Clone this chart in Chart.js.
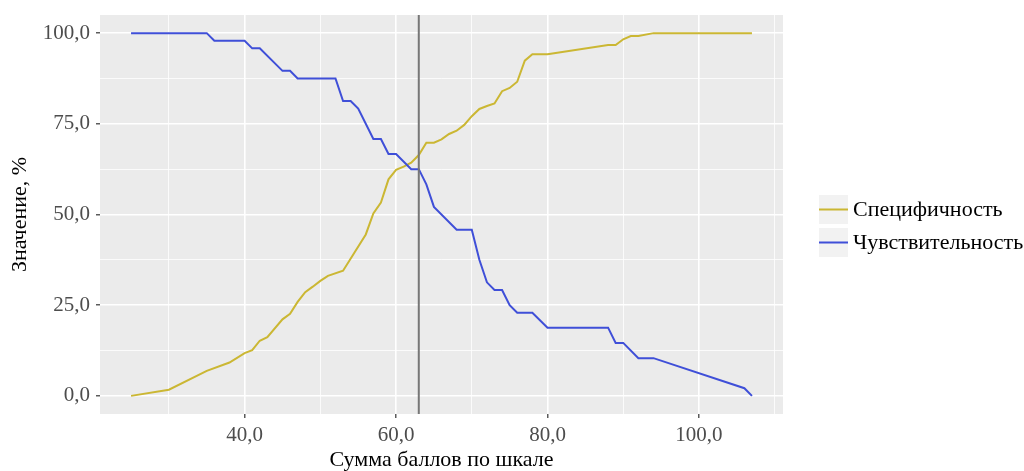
<!DOCTYPE html>
<html>
<head>
<meta charset="utf-8">
<script src="https://cdn.jsdelivr.net/npm/chart.js@4"></script>
<style>
html,body{margin:0;padding:0;background:#ffffff;}
#wrap{width:1024px;height:471px;}
</style>
</head>
<body>
<div id="wrap"><canvas id="c" width="1024" height="471"></canvas></div>
<script>
// ---- data ----
const seriesNames = ['Специфичность', 'Чувствительность'];
const xTitle = 'Сумма баллов по шкале';
const yTitle = 'Значение, %';

const specX = [25, 30, 35, 38, 40, 41, 42, 43, 45, 46, 47, 48, 49, 50, 51, 53, 56, 57, 58, 59, 60, 61, 62, 63, 64, 65, 66, 67, 68, 69, 70, 71, 72, 73, 74, 75, 76, 77, 78, 80, 88, 89, 90, 91, 92, 94, 107];
const specY = [0, 1.7, 6.9, 9.2, 11.8, 12.6, 15.2, 16.2, 21.1, 22.6, 25.9, 28.6, 30.1, 31.7, 33.1, 34.5, 44.5, 50.3, 53.3, 59.7, 62.3, 63.2, 64.3, 66.4, 69.8, 69.8, 70.7, 72.2, 73.1, 74.7, 77.1, 79.1, 79.9, 80.6, 84.0, 84.9, 86.6, 92.4, 94.2, 94.2, 96.7, 96.7, 98.3, 99.2, 99.2, 100, 100];

const sensX = [25, 35, 36, 40, 41, 42, 45, 46, 47, 52, 53, 54, 55, 57, 58, 59, 60, 62, 63, 64, 65, 68, 70, 71, 72, 73, 74, 75, 76, 78, 80, 88, 89, 90, 92, 94, 106, 107];
const sensY = [100, 100, 97.9, 97.9, 95.8, 95.8, 89.6, 89.6, 87.5, 87.5, 81.3, 81.3, 79.2, 70.8, 70.8, 66.7, 66.7, 62.5, 62.5, 58.3, 52.1, 45.8, 45.8, 37.5, 31.3, 29.2, 29.2, 25.0, 22.9, 22.9, 18.8, 18.8, 14.6, 14.6, 10.4, 10.4, 2.1, 0];

const cutoffX = 63;
const xMajorTicks = [40, 60, 80, 100];
const yMajorTicks = [0, 25, 50, 75, 100];

// ---- styling ----
const FONT = 'Liberation Serif';
const colSpec = '#cbb733';
const colSens = '#3f4fd8';
const fmt = v => v.toFixed(1).replace('.', ',');
const toPts = (xs, ys) => xs.map((x, i) => ({x: x, y: ys[i]}));

const isMajorX = v => xMajorTicks.includes(v);
const isMajorY = v => yMajorTicks.includes(v);

const ggLegend = {
  id: 'ggLegend',
  afterDraw(chart) {
    const {ctx, chartArea} = chart;
    const kx = chartArea.right + 36;
    const size = 29;
    const tops = [195, 228];
    const cols = [colSpec, colSens];
    ctx.save();
    for (let i = 0; i < 2; i++) {
      ctx.fillStyle = '#f2f2f2';
      ctx.fillRect(kx, tops[i], size, size);
      ctx.strokeStyle = cols[i];
      ctx.lineWidth = 2;
      ctx.beginPath();
      ctx.moveTo(kx, tops[i] + size / 2);
      ctx.lineTo(kx + size, tops[i] + size / 2);
      ctx.stroke();
      ctx.fillStyle = '#000000';
      ctx.font = '22px "' + FONT + '"';
      ctx.textBaseline = 'middle';
      ctx.textAlign = 'left';
      ctx.fillText(seriesNames[i], kx + size + 5, tops[i] + size / 2 + 1);
    }
    ctx.restore();
  }
};

const panelBg = {
  id: 'panelBg',
  beforeDraw(chart) {
    const {ctx, chartArea} = chart;
    ctx.save();
    ctx.fillStyle = '#ebebeb';
    ctx.fillRect(chartArea.left, chartArea.top, chartArea.right - chartArea.left, chartArea.bottom - chartArea.top);
    ctx.restore();
  }
};

new Chart(document.getElementById('c'), {
  type: 'scatter',
  data: {
    datasets: [
      {
        label: 'cutoff',
        data: [{x: cutoffX, y: -5}, {x: cutoffX, y: 105}],
        showLine: true, borderColor: '#777777', borderWidth: 2,
        pointRadius: 0, order: 0
      },
      {
        label: seriesNames[1],
        data: toPts(sensX, sensY),
        showLine: true, borderColor: colSens, borderWidth: 2, tension: 0,
        pointRadius: 0, order: 1
      },
      {
        label: seriesNames[0],
        data: toPts(specX, specY),
        showLine: true, borderColor: colSpec, borderWidth: 2, tension: 0,
        pointRadius: 0, order: 2
      }
    ]
  },
  options: {
    responsive: false,
    animation: false,
    devicePixelRatio: 1,
    layout: {padding: {left: 0, right: 241, top: 15, bottom: 0}},
    plugins: {legend: {display: false}, tooltip: {enabled: false}},
    scales: {
      x: {
        type: 'linear',
        min: 20.9, max: 111.1,
        afterFit: s => { s.height = 57; s.paddingLeft = 0; s.paddingRight = 0; },
        border: {display: false},
        grid: {
          color: '#ffffff',
          lineWidth: c => (c.tick && isMajorX(c.tick.value)) ? 1.6 : 0.8,
          drawTicks: true,
          tickLength: 4,
          tickWidth: 1.2,
          tickColor: c => (c.tick && isMajorX(c.tick.value)) ? '#333333' : 'rgba(0,0,0,0)'
        },
        ticks: {
          stepSize: 10,
          includeBounds: false,
          autoSkip: false,
          maxRotation: 0,
          padding: 5,
          color: '#4d4d4d',
          font: {family: FONT, size: 21},
          callback: v => isMajorX(v) ? fmt(v) : ''
        },
        title: {
          display: true, text: xTitle, color: '#000000',
          font: {family: FONT, size: 22, lineHeight: 1},
          padding: 0
        }
      },
      y: {
        type: 'linear',
        min: -5, max: 105,
        afterFit: s => { s.width = 100; s.paddingTop = 0; s.paddingBottom = 0; },
        border: {display: false},
        grid: {
          color: '#ffffff',
          lineWidth: c => (c.tick && isMajorY(c.tick.value)) ? 1.6 : 0.8,
          drawTicks: true,
          tickLength: 4,
          tickWidth: 1.2,
          tickColor: c => (c.tick && isMajorY(c.tick.value)) ? '#333333' : 'rgba(0,0,0,0)'
        },
        ticks: {
          stepSize: 12.5,
          includeBounds: false,
          autoSkip: false,
          padding: 6,
          color: '#4d4d4d',
          font: {family: FONT, size: 21},
          callback: v => isMajorY(v) ? fmt(v) : ''
        },
        title: {
          display: true, text: yTitle, color: '#000000',
          font: {family: FONT, size: 22, lineHeight: 1},
          padding: {top: 9}
        }
      }
    }
  },
  plugins: [panelBg, ggLegend]
});
</script>
</body>
</html>
